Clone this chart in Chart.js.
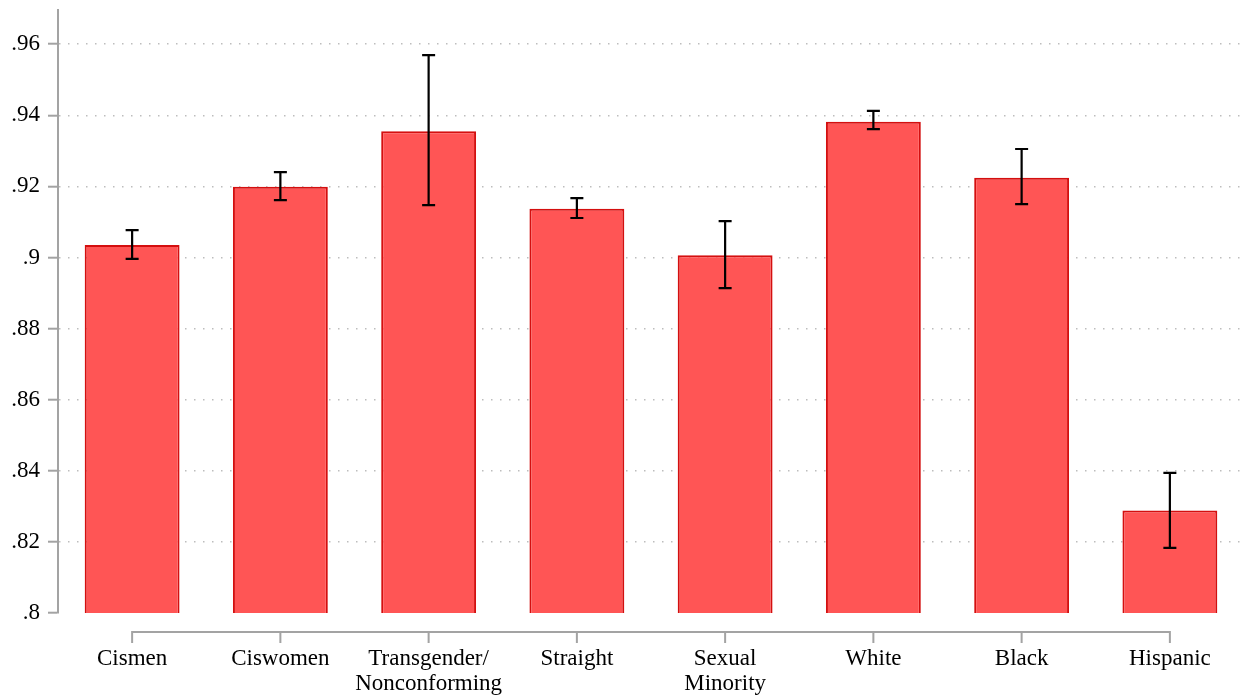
<!DOCTYPE html>
<html>
<head>
<meta charset="utf-8">
<script src="https://cdn.jsdelivr.net/npm/chart.js@4.4.0/dist/chart.umd.min.js"></script>
<style>
  body { margin: 0; background: #fff; }
  #wrap { width: 1244px; height: 698px; }
</style>
</head>
<body>
<div id="wrap"><canvas id="chart"></canvas></div>
<script>
const groups = ['Cismen', 'Ciswomen', ['Transgender/', 'Nonconforming'], 'Straight', ['Sexual', 'Minority'], 'White', 'Black', 'Hispanic'];
const means = [0.9035, 0.9199, 0.9355, 0.9137, 0.9006, 0.9382, 0.9224, 0.8288];
const ciLow = [0.8996, 0.9161, 0.9147, 0.9111, 0.8914, 0.9361, 0.9150, 0.8183];
const ciHigh = [0.9077, 0.9240, 0.9569, 0.9167, 0.9102, 0.9412, 0.9305, 0.8394];
const yTicks = [0.8, 0.82, 0.84, 0.86, 0.88, 0.9, 0.92, 0.94, 0.96];

const serif = 'Liberation Serif';
const axisGray = '#a3a3a3';

// stata style labels: ".96" instead of "0.96"
function fmt(v) {
    return String(+v.toFixed(2)).replace(/^0\./, '.');
}

// whiskers with caps on top of each bar
const errorBars = {
    id: 'errorBars',
    afterDatasetsDraw(chart) {
        const c = chart.ctx;
        const x = chart.scales.x;
        const y = chart.scales.y;
        c.save();
        c.strokeStyle = '#000';
        c.lineWidth = 2.2;
        means.forEach((m, i) => {
            const px = x.getPixelForValue(i);
            const top = y.getPixelForValue(ciHigh[i]);
            const bot = y.getPixelForValue(ciLow[i]);
            c.beginPath();
            c.moveTo(px, top); c.lineTo(px, bot);
            c.moveTo(px - 6.5, top); c.lineTo(px + 6.5, top);
            c.moveTo(px - 6.5, bot); c.lineTo(px + 6.5, bot);
            c.stroke();
        });
        c.restore();
    }
};

// detached category axis running between first and last group
const catAxis = {
    id: 'catAxis',
    afterDraw(chart) {
        const c = chart.ctx;
        const x = chart.scales.x;
        const y0 = chart.chartArea.bottom + 19;
        const first = x.getPixelForValue(0);
        const last = x.getPixelForValue(groups.length - 1);
        c.save();
        c.strokeStyle = axisGray;
        c.lineWidth = 2;
        c.beginPath();
        c.moveTo(first, y0); c.lineTo(last, y0);
        groups.forEach((g, i) => {
            const px = x.getPixelForValue(i);
            c.moveTo(px, y0 - 1); c.lineTo(px, y0 + 11);
        });
        c.stroke();
        c.restore();
    }
};

const ctx = document.getElementById('chart').getContext('2d');
new Chart(ctx, {
    type: 'bar',
    data: {
        labels: groups,
        datasets: [{
            data: means,
            backgroundColor: '#ff5555',
            borderColor: '#d40f0f',
            borderWidth: 2,
            borderSkipped: false,
            barPercentage: 0.64,
            categoryPercentage: 1
        }]
    },
    options: {
        responsive: true,
        maintainAspectRatio: false,
        animation: false,
        layout: { padding: { top: 10, left: 0, right: -4, bottom: 0 } },
        plugins: {
            legend: { display: false },
            tooltip: { enabled: false }
        },
        scales: {
            x: {
                grid: { display: false, drawTicks: false },
                border: { display: false },
                ticks: {
                    color: '#000',
                    padding: 33,
                    maxRotation: 0,
                    autoSkip: false,
                    font: { family: serif, size: 23, lineHeight: 1.09 }
                },
                afterFit(scale) { scale.height = 85; }
            },
            y: {
                min: 0.8,
                max: 0.9696,
                afterBuildTicks(scale) {
                    scale.ticks = yTicks.map(v => ({ value: v }));
                },
                grid: {
                    color: c => (c.tick && c.tick.value > 0.801) ? '#bdbdbd' : 'rgba(0,0,0,0)',
                    lineWidth: 1.4,
                    tickColor: axisGray,
                    tickWidth: 2,
                    tickLength: 10,
                    tickBorderDash: []
                },
                border: { display: true, color: axisGray, width: 2, dash: [1.5, 7.5] },
                ticks: {
                    color: '#000',
                    padding: 8,
                    font: { family: serif, size: 23 },
                    callback: v => fmt(v)
                },
                afterFit(scale) {
                    scale.width = 58;
                    scale.paddingTop = 0;
                }
            }
        }
    },
    plugins: [errorBars, catAxis]
});
</script>
</body>
</html>
